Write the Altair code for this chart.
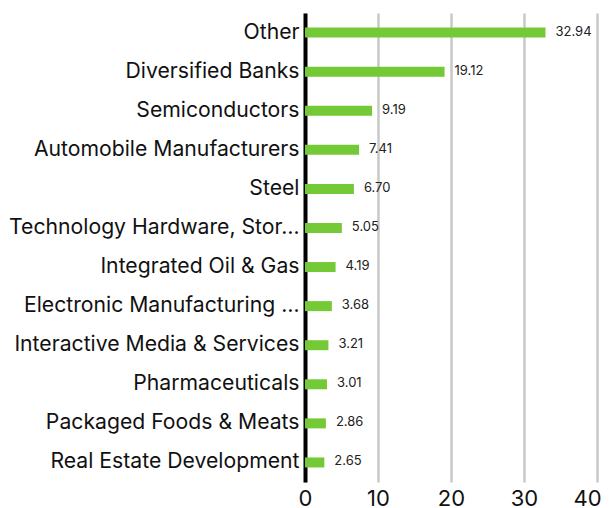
import altair as alt
import pandas as pd

categories = [
    "Other",
    "Diversified Banks",
    "Semiconductors",
    "Automobile Manufacturers",
    "Steel",
    "Technology Hardware, Stor…",
    "Integrated Oil & Gas",
    "Electronic Manufacturing …",
    "Interactive Media & Services",
    "Pharmaceuticals",
    "Packaged Foods & Meats",
    "Real Estate Development",
]
values = [32.94, 19.12, 9.19, 7.41, 6.70, 5.05, 4.19, 3.68, 3.21, 3.01, 2.86, 2.65]
x_ticks = [0, 10, 20, 30, 40]

df = pd.DataFrame({"category": categories, "value": values})
df["label"] = [f"{v:.2f}" for v in values]

FONT = "Inter"

y_enc = alt.Y(
    "category:N",
    sort=categories,
    title=None,
    scale=alt.Scale(paddingInner=0.0, paddingOuter=0.0),
    axis=alt.Axis(
        ticks=False,
        domain=True,
        domainColor="#000000",
        domainWidth=4,
        labelFont=FONT,
        labelFontSize=21.2,
        labelColor="#111111",
        labelPadding=6,
        labelLimit=400,
        grid=False,
    ),
)

x_enc = alt.X(
    "value:Q",
    title=None,
    scale=alt.Scale(domain=[0, 40], nice=False),
    axis=alt.Axis(
        values=x_ticks,
        grid=True,
        gridColor="#c8c8c8",
        gridWidth=2.5,
        domain=False,
        ticks=False,
        labelFont=FONT,
        labelFontSize=22,
        labelColor="#111111",
        labelPadding=6,
        labelFlush=False,
        labelOffset=alt.ExprRef("datum.value == 40 ? -10 : 0"),
    ),
)

bars = alt.Chart(df).mark_bar(color="#74c936", size=10).encode(x=x_enc, y=y_enc)

text = alt.Chart(df).mark_text(
    align="left", baseline="middle", dx=10, dy=-1, font=FONT, fontSize=13, color="#222222"
).encode(x="value:Q", y=alt.Y("category:N", sort=categories), text="label:N")

chart = (
    alt.layer(bars, text)
    .properties(
        width=292,
        height=469,
        autosize=alt.AutoSizeParams(type="none"),
        padding={"left": 297, "top": 5, "right": 4, "bottom": 26},
    )
    .configure_view(stroke=None)
)

chart.save("out.html", embed_options={"renderer": "svg", "actions": False})
